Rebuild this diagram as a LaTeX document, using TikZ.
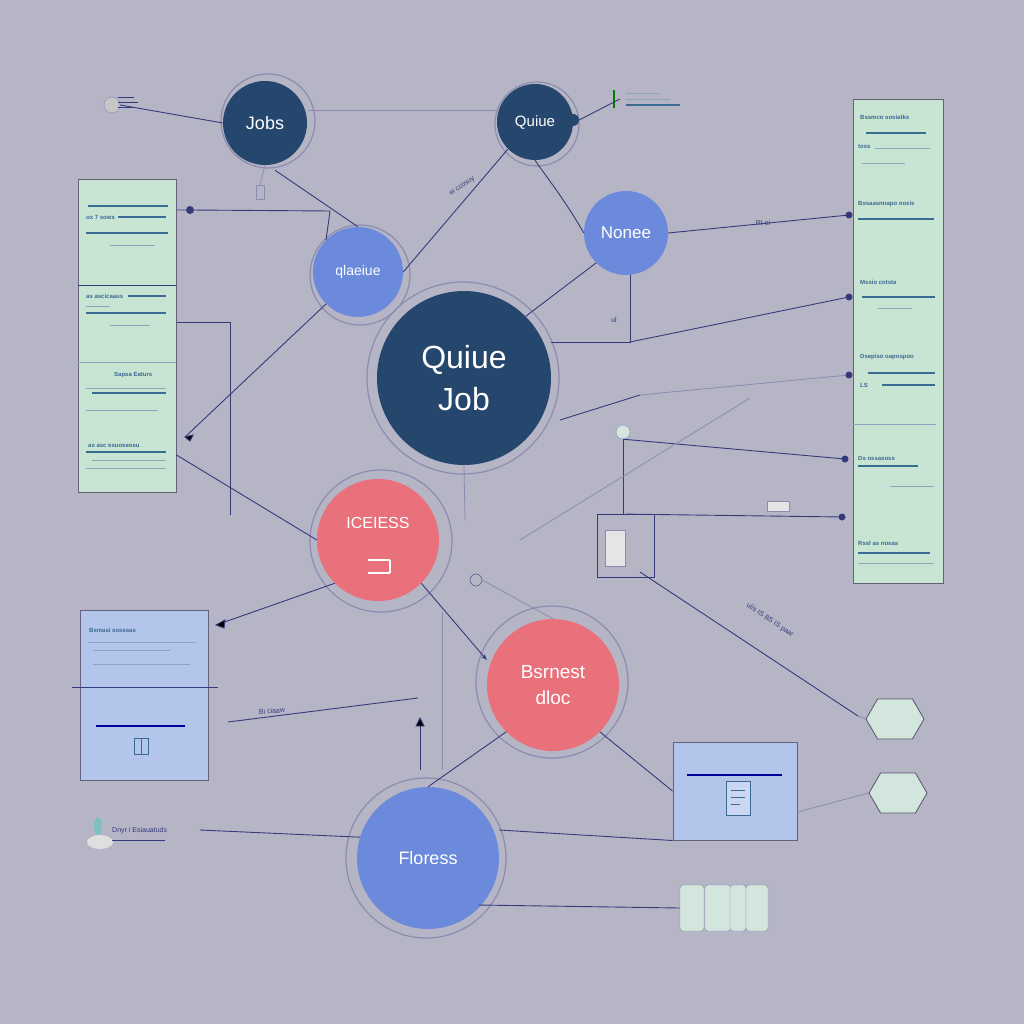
\documentclass[tikz,border=0pt]{standalone}
\usepackage{fontspec}
\setmainfont{Liberation Sans}
\usetikzlibrary{shapes.geometric,shapes.symbols,arrows.meta}
\definecolor{bg}{HTML}{B6B5C6}
\definecolor{navy}{HTML}{25466D}
\definecolor{cblue}{HTML}{6B8ADC}
\definecolor{cred}{HTML}{E8717B}
\definecolor{pgreen}{HTML}{C8E4D3}
\definecolor{pblue}{HTML}{B4C5EC}
\definecolor{wire}{HTML}{343A7A}
\definecolor{ringc}{HTML}{8D8BAF}
\definecolor{bar}{HTML}{3B6A92}
\definecolor{hexc}{HTML}{D3E6DD}
\tikzset{
  circ/.style={circle, inner sep=0pt, text=white, align=center},
  ringline/.style={draw=ringc, line width=1.2pt},
  wire/.style={draw=wire, line width=0.9pt},
  faint/.style={draw=ringc, line width=0.8pt},
  dotn/.style={circle, fill=wire, inner sep=0pt, minimum size=7pt},
  gpanel/.style={draw=ringc!70!black, fill=pgreen, line width=1pt},
  bpanel/.style={draw=ringc!70!black, fill=pblue, line width=1pt},
  barl/.style={draw=bar, line width=1.6pt},
  thinbar/.style={draw=bar!60, line width=0.8pt},
  tiny/.style={font=\fontsize{6}{7}\selectfont\bfseries, text=bar, inner sep=0pt, anchor=west},
  lbl/.style={font=\fontsize{7}{8}\selectfont, text=wire, inner sep=0pt},
  hexn/.style={signal, signal to=east and west, signal pointer angle=120, draw=ringc!60!black, fill=hexc, line width=0.8pt, minimum width=58pt, minimum height=40pt, inner sep=0pt}
}
\begin{document}
\begin{tikzpicture}[x=1pt,y=-1pt]
\fill[bg] (0,0) rectangle (1024,1024);
\useasboundingbox (0,0) rectangle (1024,1024);

% ---------- panels ----------
\node[gpanel, minimum width=98pt, minimum height=312pt, inner sep=0pt] (lpanel) at (127,336) {};
\node[gpanel, minimum width=90pt, minimum height=483pt, inner sep=0pt] (rpanel) at (898,341.5) {};
\node[bpanel, minimum width=128pt, minimum height=170pt, inner sep=0pt] (bpanelL) at (144,695) {};
\node[bpanel, minimum width=124pt, minimum height=98pt, inner sep=0pt] (bpanelR) at (735,791) {};

% left panel content
\draw[wire] (78,285) -- (176,285);
\draw[thinbar] (78,362) -- (176,362);
\draw[barl] (88,206) -- (168,206);
\node[tiny] (lt1) at (86,217) {ox 7 sows};
\draw[barl] (118,217) -- (166,217);
\draw[barl] (86,233) -- (168,233);
\draw[thinbar] (110,245) -- (155,245);
\node[tiny] (lt2) at (86,296) {as ascicaaus};
\draw[barl] (128,296) -- (166,296);
\draw[thinbar] (86,306) -- (110,306);
\draw[barl] (86,313) -- (166,313);
\draw[thinbar] (110,325) -- (150,325);
\node[tiny] (lt3) at (114,375) {Sapsa Eaturs};
\draw[thinbar] (86,388) -- (166,388);
\draw[barl] (92,393) -- (166,393);
\draw[thinbar] (86,410) -- (158,410);
\node[tiny] (lt4) at (88,446) {as asc esuoseosu};
\draw[barl] (86,452) -- (166,452);
\draw[thinbar] (92,460) -- (166,460);
\draw[thinbar] (86,468) -- (166,468);

% right panel content
\node[tiny] (rt1) at (860,117) {Bssmco sosiatks};
\draw[barl] (866,133) -- (926,133);
\node[tiny] (rt2) at (858,147) {toss};
\draw[thinbar] (875,148) -- (930,148);
\draw[thinbar] (862,163) -- (905,163);
\node[tiny] (rt3) at (858,204) {Bssaasnnapo oosis};
\draw[barl] (858,219) -- (934,219);
\node[tiny] (rt4) at (860,282) {Mssio cotsta};
\draw[barl] (862,297) -- (935,297);
\draw[thinbar] (878,308) -- (912,308);
\node[tiny] (rt5) at (860,357) {Dsepiso oapospoo};
\draw[barl] (868,373) -- (935,373);
\node[tiny] (rt6) at (860,385) {LS};
\draw[barl] (882,385) -- (935,385);
\draw[thinbar] (853,424) -- (936,424);
\node[tiny] (rt7) at (858,458) {Ds ossasoss};
\draw[barl] (858,466) -- (918,466);
\draw[thinbar] (890,486) -- (934,486);
\node[tiny] (rt8) at (858,543) {Rssl as nosas};
\draw[barl] (858,553) -- (930,553);
\draw[thinbar] (858,563) -- (934,563);

% left blue panel content
\draw[wire] (72,687) -- (218,687);
\node[tiny] (bt1) at (89,630) {Bsmasi sosesas};
\draw[thinbar] (88,642) -- (196,642);
\draw[thinbar] (93,650) -- (170,650);
\draw[thinbar] (93,664) -- (190,664);
\draw[draw=blue!60!black, line width=2pt] (96,726) -- (185,726);
\node[draw=bar, line width=0.8pt, minimum width=14pt, minimum height=16pt, inner sep=0pt] (bicon) at (141,746) {};
\draw[bar] (bicon.north) -- (bicon.south);

% right blue panel content
\draw[draw=blue!60!black, line width=2pt] (687,775) -- (782,775);
\node[draw=bar, fill=pblue!70!white, line width=0.8pt, minimum width=24pt, minimum height=34pt, inner sep=0pt] (doc) at (738,798) {};
\draw[bar] (731,790) -- (745,790) (731,797) -- (745,797) (731,804) -- (740,804);

% ---------- circles ----------
\node[circ, fill=navy, minimum size=84pt, font=\fontsize{18}{20}\selectfont] (jobs) at (265,123) {Jobs};
\node[circ, fill=navy, minimum size=76pt, font=\fontsize{15}{17}\selectfont] (quiue) at (535,122) {Quiue};
\node[circ, fill=cblue, minimum size=84pt, font=\fontsize{17}{19}\selectfont] (nonee) at (626,233) {Nonee};
\node[circ, fill=cblue, minimum size=90pt, font=\fontsize{14}{16}\selectfont] (qlae) at (358,272) {qlaeiue};
\node[circ, fill=navy, minimum size=174pt, font=\fontsize{32}{42}\selectfont] (qjob) at (464,378) {Quiue\\Job};
\node[circ, fill=cred, minimum size=122pt, font=\fontsize{16}{18}\selectfont] (iceiess) at (378,540) {ICEIESS\\[16pt]};
\draw[white, line width=1.6pt] (iceiess.center) ++(-10,20) -- ++(22,0) (iceiess.center) ++(-10,33) -- ++(22,0) (iceiess.center) ++(12,20) -- ++(0,13);
\node[circ, fill=cred, minimum size=132pt, font=\fontsize{19}{26}\selectfont] (bsrn) at (553,685) {Bsrnest\\dloc};
\node[circ, fill=cblue, minimum size=142pt, font=\fontsize{18}{20}\selectfont] (flor) at (428,858) {Floress};

% rings
\draw[ringline] (268,121) circle[radius=47pt];
\draw[ringline] (537,124) circle[radius=42pt];
\draw[ringline] (360,275) circle[radius=50pt];
\draw[ringline] (463,378) circle[radius=96pt];
\draw[ringline] (381,541) circle[radius=71pt];
\draw[ringline] (552,682) circle[radius=76pt];
\draw[ringline] (426,858) circle[radius=80pt];

% ---------- small items ----------
\node[circle, fill=gray!45, draw=ringc, minimum size=16pt, inner sep=0pt] (icTL) at (112,105) {};
\draw[wire] (118,97) -- (134,97) (118,102) -- (138,102) (118,107) -- (135,107);
\node[circle, fill=navy, minimum size=12pt, inner sep=0pt] (qdot) at (573,120) {};
\draw[draw=green!50!black, line width=1.2pt] (614,90) -- (614,108);
\node[inner sep=0pt, minimum width=60pt, minimum height=18pt] (icTR) at (650,99) {};
\draw[thinbar] (626,93) -- (660,93) (626,99) -- (670,99);
\draw[barl] (626,105) -- (680,105);
\node[ellipse, fill=teal!50, minimum width=8pt, minimum height=18pt, inner sep=0pt] (leaf) at (98,826) {};
\node[ellipse, fill=gray!25, minimum width=26pt, minimum height=14pt, inner sep=0pt] (leafpot) at (100,842) {};
\node[lbl, anchor=west] (dnyr) at (112,831) {Dnyr i Esiauatuds};
\draw[wire] (112,840) -- (165,840);
\node[draw=wire, line width=0.8pt, minimum width=57pt, minimum height=63pt, inner sep=0pt] (sbox) at (626,546) {};
\node[draw=ringc, fill=gray!20, minimum width=20pt, minimum height=36pt, inner sep=0pt] (sboxin) at (615,548) {};
\node[circle, draw=ringc, fill=hexc, minimum size=14pt, inner sep=0pt] (bulb) at (623,432) {};
\node[draw=ringc, fill=gray!20, minimum width=22pt, minimum height=10pt, inner sep=0pt] (tray) at (778,506) {};

\node[hexn] (hex1) at (895,719) {};
\node[hexn] (hex2) at (898,793) {};

\node[draw=ringc, fill=hexc, rounded corners=3pt, minimum width=24pt, minimum height=46pt, inner sep=0pt] (st1) at (692,908) {};
\node[draw=ringc, fill=hexc, rounded corners=3pt, minimum width=26pt, minimum height=46pt, inner sep=0pt] (st2) at (718,908) {};
\node[draw=ringc, fill=hexc, rounded corners=3pt, minimum width=16pt, minimum height=46pt, inner sep=0pt] (st3) at (738,908) {};
\node[draw=ringc, fill=hexc, rounded corners=3pt, minimum width=22pt, minimum height=46pt, inner sep=0pt] (st4) at (757,908) {};

% ---------- coordinates ----------
\coordinate (lpd1) at (190,210);
\coordinate (lpbend) at (330,211);
\coordinate (rpd1) at (849,215);
\coordinate (rpd2) at (849,297);
\coordinate (rpd3) at (849,375);
\coordinate (rpd4) at (845,459);
\coordinate (rpd5) at (842,517);
\coordinate (la1) at (185,437);
\coordinate (la2) at (216,625);
\coordinate (elbowA) at (230,322);
\coordinate (elbowB) at (230,515);
\coordinate (nb) at (630,275);
\coordinate (nb2) at (630,342);
\coordinate (vline1) at (442,612);
\coordinate (vline2) at (442,770);
\coordinate (arrUp) at (420,718);
\coordinate (arrUpB) at (420,770);
\coordinate (mid1) at (228,722);
\coordinate (mid2) at (418,698);
\coordinate (diagA) at (640,572);
\coordinate (diagB) at (858,716);
\coordinate (diagC) at (520,540);
\coordinate (diagD) at (750,398);
\coordinate (jq1) at (308,110);
\coordinate (jq2) at (498,110);

% ---------- connectors ----------
\draw[wire] (icTL.east) -- (jobs.west);
\draw[faint] (jq1) -- (jq2);
\draw[wire] (qdot.east) -- (icTR.west);
\draw[faint] (jobs.south) -- ++(-5,20) node[draw=ringc, minimum width=8pt, minimum height=14pt, inner sep=0pt, anchor=north] (stem) {};
\draw[wire] (jobs.south) ++(10,5) -- (qlae.north);
\node[dotn, minimum size=8pt] (lpdot) at (lpd1) {};
\draw[wire] (lpanel.east |- lpd1) -- (lpdot) -- (lpbend) -- (qlae.north west);
\draw[wire] (quiue.south west) -- (qlae.east);
\node[lbl, rotate=35] (l1) at (462,186) {ei ccosuy};
\draw[wire] (quiue.south) .. controls (545,175) and (565,200) .. (nonee.west);
\draw[wire] (nonee.east) -- (rpd1) node[dotn] {};
\node[lbl] (l2) at (763,223) {RI ei};
\draw[wire] (nonee.south west) -- (qjob.north east);
\draw[wire] (nb) -- (nb2) -- (qjob.east |- nb2);
\draw[wire] (nb2) -- (rpd2) node[dotn] {};
\node[lbl] (l3) at (614,320) {ul};
\draw[wire] (la1) -- (qlae.south west);
\fill[wire] (la1) -- ++(8,-2) -- ++(-3,6) -- cycle;
\draw[wire] (lpanel.east |- elbowA) -- (elbowA) -- (elbowB);
\draw[wire] (lpanel.east |- 0,455) -- (iceiess.west);
\draw[faint] (640,395) -- (rpd3);
\draw[wire] (560,420) -- (640,395);
\node[dotn] at (rpd3) {};
\draw[wire] (bulb.south) -- (623,515);
\draw[wire] (bulb.south) -- (rpd4) node[dotn] {};
\draw[wire] (sbox.north) -- (rpd5) node[dotn] {};
\draw[faint] (diagC) -- (diagD);
\draw[wire] (diagA) -- (diagB);
\node[lbl, rotate=-34] (l4) at (770,620) {ul/s IS BS IS paar};
\draw[faint] (diagB) -- (hex1.west);
\draw[wire] (iceiess.south west) -- (la2);
\fill[wire] (la2) -- ++(9,-5) -- ++(-1,8) -- cycle;
\draw[wire, -{Stealth[length=6pt]}] (iceiess.south east) -- (bsrn.west |- 0,660);
\draw[faint] (vline1) -- (vline2);
\draw[wire] (mid1) -- (mid2);
\node[lbl, rotate=4] (l5) at (272,711) {Bi ciaaw};
\draw[wire] (arrUpB) -- (arrUp);
\fill[wire] (arrUp) -- ++(-4,8) -- ++(8,0) -- cycle;
\draw[wire] (bsrn.south west) -- (flor.north);
\draw[wire] (bsrn.south east) -- (bpanelR.west);
\draw[wire] (200,830) -- (flor.163);
\draw[wire] (flor.east |- 0,830) -- (bpanelR.south west);
\draw[wire] (flor.south east |- 0,905) -- (st1.west);
\draw[faint] (bpanelR.east |- 0,812) -- (hex2.west);
\draw[faint] (qjob.south) -- (465,520);
\node[circle, draw=wire, minimum size=12pt, inner sep=0pt] (smallc) at (476,580) {};
\draw[faint] (smallc.east) -- (bsrn.north);
\end{tikzpicture}
\end{document}
